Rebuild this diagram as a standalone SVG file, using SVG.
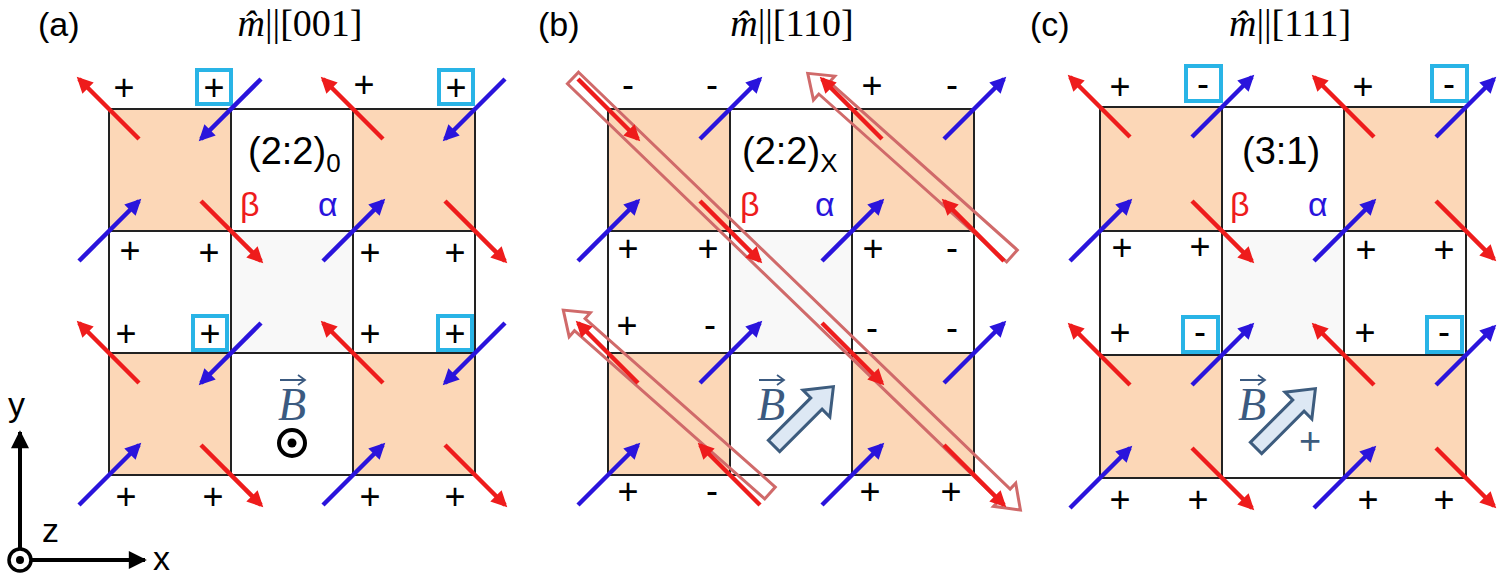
<svg xmlns="http://www.w3.org/2000/svg" width="1498" height="581" viewBox="0 0 1498 581">
<defs>
<marker id="hr" viewBox="0 0 10 10" refX="8" refY="5" markerWidth="20" markerHeight="16" markerUnits="userSpaceOnUse" orient="auto"><path d="M0,0 L10,5 L0,10 Z" fill="#ee1c1c"/></marker>
<marker id="hb" viewBox="0 0 10 10" refX="8" refY="5" markerWidth="20" markerHeight="16" markerUnits="userSpaceOnUse" orient="auto"><path d="M0,0 L10,5 L0,10 Z" fill="#2a14dc"/></marker>
<marker id="hk" viewBox="0 0 10 10" refX="9" refY="5" markerWidth="20" markerHeight="18" markerUnits="userSpaceOnUse" orient="auto"><path d="M0,0 L10,5 L0,10 Z" fill="#000"/></marker>
</defs>
<style>
.o{fill:#fcd7b7;stroke:#222;stroke-width:2}
.w{fill:#fff;stroke:#222;stroke-width:2}
.g{fill:#f8f8f8;stroke:#222;stroke-width:2}
.r{stroke:#ee1c1c;stroke-width:4.5;marker-end:url(#hr)}
.b{stroke:#2a14dc;stroke-width:4.5;marker-end:url(#hb)}
.s text{font-family:"Liberation Sans",Arial,sans-serif;font-size:36px;text-anchor:middle;fill:#000}
.bx{fill:none;stroke:#29b4e6;stroke-width:4}
.lab{font-family:"Liberation Sans",Arial,sans-serif;font-size:34px;fill:#000}
.ttl{font-family:"Liberation Serif","Times New Roman",serif;font-size:38px;text-anchor:middle;fill:#000}
.big{font-family:"Liberation Sans",Arial,sans-serif;font-size:38px;fill:#000}
.al{font-size:34px;font-family:"Liberation Sans",Arial,sans-serif}
.bv{font-family:"Liberation Serif","Times New Roman",serif;font-style:italic;font-size:46px;fill:#3b5a80;text-anchor:middle}
.ho{fill:none;stroke:#d06a6a;stroke-width:3}
.ba{fill:#dde8f4;stroke:#3d5c7e;stroke-width:3;stroke-linejoin:miter}
</style>

<g id="labels">
<text class="lab" x="38" y="36">(a)</text>
<text class="lab" x="538" y="36">(b)</text>
<text class="lab" x="1030" y="36">(c)</text>
<text class="ttl" x="300" y="36"><tspan font-style="italic">m̂</tspan>||[001]</text>
<text class="ttl" x="792" y="36"><tspan font-style="italic">m̂</tspan>||[110]</text>
<text class="ttl" x="1290" y="36"><tspan font-style="italic">m̂</tspan>||[111]</text>
</g>

<g id="panel-a">
<rect class="o" x="109" y="109" width="122" height="122"/><rect class="w" x="231" y="109" width="122" height="122"/><rect class="o" x="353" y="109" width="122" height="122"/>
<rect class="w" x="109" y="231" width="122" height="122"/><rect class="g" x="231" y="231" width="122" height="122"/><rect class="w" x="353" y="231" width="122" height="122"/>
<rect class="o" x="109" y="353" width="122" height="122"/><rect class="w" x="231" y="353" width="122" height="122"/><rect class="o" x="353" y="353" width="122" height="122"/>
<text class="big" x="248" y="164">(2:2)<tspan font-size="26" dy="8">0</tspan></text>
<text class="al" x="240" y="216" fill="#ee1c1c">β</text><text class="al" x="318" y="216" fill="#2a14dc">α</text>
<text class="bv" x="292" y="420">B</text><path d="M280,380 H305 M298,375 L305,380 L298,385" fill="none" stroke="#3b5a80" stroke-width="1.8"/>
<circle cx="292" cy="443" r="13" fill="none" stroke="#000" stroke-width="4"/><circle cx="292" cy="443" r="4.5" fill="#000"/>
<g class="s">
<text x="124" y="100">+</text><text x="214" y="100">+</text><text x="364" y="97">+</text><text x="456" y="100">+</text>
<text x="130" y="263">+</text><text x="209" y="265">+</text><text x="370" y="265">+</text><text x="455" y="265">+</text>
<text x="126" y="346">+</text><text x="210" y="346">+</text><text x="370" y="346">+</text><text x="455" y="346">+</text>
<text x="126" y="509">+</text><text x="213" y="509">+</text><text x="370" y="509">+</text><text x="455" y="509">+</text>
</g>
<rect class="bx" x="197" y="70" width="34" height="34"/><rect class="bx" x="439" y="70" width="34" height="34"/>
<rect class="bx" x="193" y="316" width="34" height="34"/><rect class="bx" x="438" y="316" width="34" height="34"/>
</g>

<g id="panel-b">
<rect class="o" x="608" y="109" width="122" height="122"/><rect class="w" x="730" y="109" width="122" height="122"/><rect class="o" x="852" y="109" width="122" height="122"/>
<rect class="w" x="608" y="231" width="122" height="122"/><rect class="g" x="730" y="231" width="122" height="122"/><rect class="w" x="852" y="231" width="122" height="122"/>
<rect class="o" x="608" y="353" width="122" height="122"/><rect class="w" x="730" y="353" width="122" height="122"/><rect class="o" x="852" y="353" width="122" height="122"/>
<text class="big" x="742" y="164">(2:2)<tspan font-size="26" dy="8">X</tspan></text>
<text class="al" x="740" y="216" fill="#ee1c1c">β</text><text class="al" x="815" y="216" fill="#2a14dc">α</text>
<text class="bv" x="771" y="420">B</text><path d="M759,380 H784 M777,375 L784,380 L777,385" fill="none" stroke="#3b5a80" stroke-width="1.8"/>
<polygon class="ba" transform="translate(774,446) rotate(-45)" points="0,-8 60,-8 60,-19 84,0 60,19 60,8 0,8"/>
<g class="s">
<text x="628" y="97">-</text><text x="712" y="97">-</text><text x="872" y="98">+</text><text x="952" y="97">-</text>
<text x="628" y="261">+</text><text x="708" y="261">+</text><text x="873" y="261">+</text><text x="952" y="260">-</text>
<text x="627" y="338">+</text><text x="710" y="337">-</text><text x="872" y="340">-</text><text x="952" y="340">-</text>
<text x="628" y="504">+</text><text x="712" y="503">-</text><text x="870" y="504">+</text><text x="951" y="504">+</text>
</g>
<polygon class="ho" transform="translate(573,78) rotate(44)" points="0,-8 600,-8 600,-16 622,0 600,16 600,8 0,8"/>
<polygon class="ho" transform="translate(1012,256) rotate(221.8)" points="0,-8 252,-8 252,-16 274,0 252,16 252,8 0,8"/>
<polygon class="ho" transform="translate(770,493) rotate(221.5)" points="0,-8 254,-8 254,-16 276,0 254,16 254,8 0,8"/>
</g>

<g id="panel-c">
<rect class="o" x="1100" y="107" width="122" height="124"/><rect class="w" x="1222" y="107" width="122" height="124"/><rect class="o" x="1344" y="107" width="122" height="124"/>
<rect class="w" x="1100" y="231" width="122" height="124"/><rect class="g" x="1222" y="231" width="122" height="124"/><rect class="w" x="1344" y="231" width="122" height="124"/>
<rect class="o" x="1100" y="355" width="122" height="123"/><rect class="w" x="1222" y="355" width="122" height="123"/><rect class="o" x="1344" y="355" width="122" height="123"/>
<text class="big" x="1242" y="164">(3:1)</text>
<text class="al" x="1230" y="216" fill="#ee1c1c">β</text><text class="al" x="1308" y="216" fill="#2a14dc">α</text>
<text class="bv" x="1252" y="420">B</text><path d="M1240,380 H1265 M1258,375 L1265,380 L1258,385" fill="none" stroke="#3b5a80" stroke-width="1.8"/>
<polygon class="ba" transform="translate(1256,448) rotate(-45)" points="0,-8 60,-8 60,-19 84,0 60,19 60,8 0,8"/>
<text x="1310" y="454" font-family="Liberation Sans,Arial,sans-serif" font-size="38" fill="#3d5c7e" text-anchor="middle">+</text>
<g class="s">
<text x="1120" y="99">+</text><text x="1203" y="96">-</text><text x="1363" y="99">+</text><text x="1449" y="96">-</text>
<text x="1122" y="260">+</text><text x="1200" y="259">+</text><text x="1366" y="262">+</text><text x="1444" y="262">+</text>
<text x="1120" y="345">+</text><text x="1200" y="344">-</text><text x="1365" y="345">+</text><text x="1444" y="344">-</text>
<text x="1120" y="512">+</text><text x="1198" y="512">+</text><text x="1368" y="512">+</text><text x="1444" y="512">+</text>
</g>
<rect class="bx" x="1186" y="66" width="35" height="35"/><rect class="bx" x="1432" y="66" width="35" height="35"/>
<rect class="bx" x="1183" y="317" width="35" height="35"/><rect class="bx" x="1427" y="317" width="35" height="35"/>
</g>

<g id="connectors">
<line class="r" x1="139" y1="139" x2="79" y2="79"/><line class="b" x1="261" y1="79" x2="201" y2="139"/><line class="r" x1="383" y1="139" x2="323" y2="79"/><line class="b" x1="505" y1="79" x2="445" y2="139"/>
<line class="b" x1="79" y1="261" x2="139" y2="201"/><line class="r" x1="201" y1="201" x2="261" y2="261"/><line class="b" x1="323" y1="261" x2="383" y2="201"/><line class="r" x1="445" y1="201" x2="505" y2="261"/>
<line class="r" x1="139" y1="383" x2="79" y2="323"/><line class="b" x1="261" y1="323" x2="201" y2="383"/><line class="r" x1="383" y1="383" x2="323" y2="323"/><line class="b" x1="505" y1="323" x2="445" y2="383"/>
<line class="b" x1="79" y1="505" x2="139" y2="445"/><line class="r" x1="201" y1="445" x2="261" y2="505"/><line class="b" x1="323" y1="505" x2="383" y2="445"/><line class="r" x1="445" y1="445" x2="505" y2="505"/>

<line class="r" x1="578" y1="79" x2="638" y2="139"/><line class="b" x1="700" y1="139" x2="760" y2="79"/><line class="r" x1="882" y1="139" x2="822" y2="79"/><line class="b" x1="944" y1="139" x2="1004" y2="79"/>
<line class="b" x1="578" y1="261" x2="638" y2="201"/><line class="r" x1="700" y1="201" x2="760" y2="261"/><line class="b" x1="822" y1="261" x2="882" y2="201"/><line class="r" x1="1004" y1="261" x2="944" y2="201"/>
<line class="r" x1="638" y1="383" x2="578" y2="323"/><line class="b" x1="700" y1="383" x2="760" y2="323"/><line class="r" x1="822" y1="323" x2="882" y2="383"/><line class="b" x1="944" y1="383" x2="1004" y2="323"/>
<line class="b" x1="578" y1="505" x2="638" y2="445"/><line class="r" x1="760" y1="505" x2="700" y2="445"/><line class="b" x1="822" y1="505" x2="882" y2="445"/><line class="r" x1="944" y1="445" x2="1004" y2="505"/>

<line class="r" x1="1130" y1="137" x2="1070" y2="77"/><line class="b" x1="1192" y1="137" x2="1252" y2="77"/><line class="r" x1="1374" y1="137" x2="1314" y2="77"/><line class="b" x1="1436" y1="137" x2="1494" y2="79"/>
<line class="b" x1="1070" y1="261" x2="1130" y2="201"/><line class="r" x1="1192" y1="201" x2="1252" y2="261"/><line class="b" x1="1314" y1="261" x2="1374" y2="201"/><line class="r" x1="1436" y1="201" x2="1494" y2="259"/>
<line class="r" x1="1130" y1="385" x2="1070" y2="325"/><line class="b" x1="1192" y1="385" x2="1252" y2="325"/><line class="r" x1="1374" y1="385" x2="1314" y2="325"/><line class="b" x1="1436" y1="385" x2="1494" y2="327"/>
<line class="b" x1="1070" y1="508" x2="1130" y2="448"/><line class="r" x1="1192" y1="448" x2="1252" y2="508"/><line class="b" x1="1314" y1="508" x2="1374" y2="448"/><line class="r" x1="1436" y1="448" x2="1494" y2="506"/>
</g>

<g id="axes">
<line x1="20" y1="550" x2="20" y2="432" stroke="#000" stroke-width="4" marker-end="url(#hk)"/>
<line x1="32" y1="560" x2="145" y2="560" stroke="#000" stroke-width="4" marker-end="url(#hk)"/>
<circle cx="20" cy="560" r="11" fill="#fff" stroke="#000" stroke-width="3.5"/><circle cx="20" cy="560" r="4" fill="#000"/>
<text class="lab" x="8" y="416">y</text>
<text class="lab" x="42" y="542">z</text>
<text class="lab" x="153" y="570">x</text>
</g>
</svg>
